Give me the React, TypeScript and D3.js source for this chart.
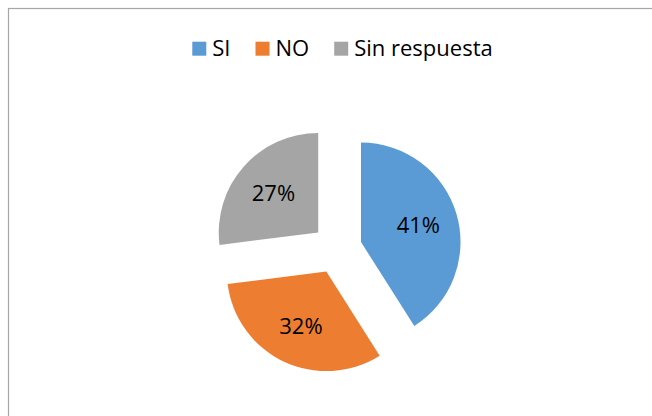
import React, { useRef, useEffect } from 'react';
import * as d3 from 'd3';

const categories = ['SI', 'NO', 'Sin respuesta'];
const values = [41, 32, 27];
const labels = ['41%', '32%', '27%'];
const colors = ['#5B9BD5', '#ED7D31', '#A5A5A5'];

const W = 652;
const H = 416;
const FONT = '"Open Sans", "Noto Sans", sans-serif';

const App = () => {
  const svgRef = useRef<SVGSVGElement>(null);

  useEffect(() => {
    const svg = d3.select(svgRef.current);
    svg.selectAll('*').remove();

    svg.append('rect')
      .attr('width', W)
      .attr('height', H)
      .attr('fill', '#fff');

    // chart frame (runs off right/bottom edge)
    svg.append('rect')
      .attr('x', 8.5)
      .attr('y', 8.5)
      .attr('width', W + 40)
      .attr('height', H + 40)
      .attr('fill', 'none')
      .attr('stroke', '#a6a6a6')
      .attr('stroke-width', 1.2);

    // pie
    const cx = 337;
    const cy = 249;
    const radius = 99.5;
    const explode = 25;

    const pie = d3.pie<number>().value(d => d).sort(null);
    const arc = d3.arc<d3.PieArcDatum<number>>().innerRadius(0).outerRadius(radius);
    const arcs = pie(values);

    const chart = svg.append('g').attr('transform', `translate(${cx},${cy})`);

    const slices = chart.selectAll('.slice')
      .data(arcs)
      .enter()
      .append('g')
      .attr('class', 'slice')
      .attr('transform', d => {
        const mid = (d.startAngle + d.endAngle) / 2;
        return `translate(${Math.sin(mid) * explode},${-Math.cos(mid) * explode})`;
      });

    slices.append('path')
      .attr('d', arc)
      .attr('fill', (d, i) => colors[i]);

    // value labels
    slices.append('text')
      .attr('x', d => Math.sin((d.startAngle + d.endAngle) / 2) * radius * 0.6)
      .attr('y', d => -Math.cos((d.startAngle + d.endAngle) / 2) * radius * 0.6)
      .attr('text-anchor', 'middle')
      .attr('dy', '0.36em')
      .style('font-family', FONT)
      .style('font-size', '22px')
      .style('fill', '#000')
      .text((d, i) => labels[i]);

    // legend
    const legend = svg.append('g');
    const sq = 14;
    const gapText = 6;
    const gapItem = 25;
    let x = 0;
    categories.forEach((c, i) => {
      legend.append('rect')
        .attr('x', x)
        .attr('y', 41.7)
        .attr('width', sq)
        .attr('height', sq)
        .attr('fill', colors[i]);
      const t = legend.append('text')
        .attr('x', x + sq + gapText)
        .attr('y', 55.7)
        .style('font-family', FONT)
        .style('font-size', '22px')
        .style('fill', '#000')
        .text(c);
      const w = (t.node() as SVGTextElement).getComputedTextLength();
      x += sq + gapText + w + gapItem;
    });
    const total = x - gapItem;
    legend.attr('transform', `translate(${342.5 - total / 2},0)`);
  }, []);

  return (
    <svg
      ref={svgRef}
      width={W}
      height={H}
      style={{ position: 'absolute', left: 0, top: 0, display: 'block' }}
    />
  );
};

export default App;
